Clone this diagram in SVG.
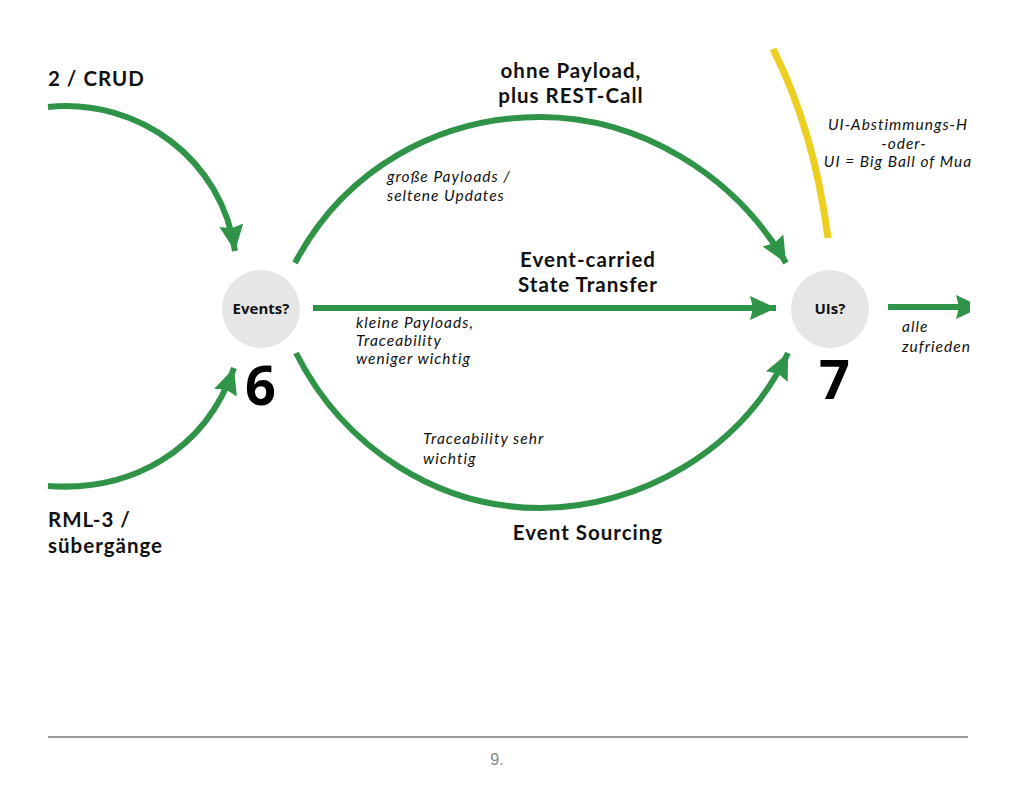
<svg xmlns="http://www.w3.org/2000/svg" width="1024" height="791" viewBox="0 0 1024 791">
<style>
.c{fill:none;stroke:#2F9447;stroke-width:6;}
.h{font-family:"Lato","Liberation Sans",sans-serif;font-weight:700;font-size:20.5px;letter-spacing:1px;fill:#111;}
.i{font-family:"Lato","Liberation Sans",sans-serif;font-style:italic;font-size:15.5px;letter-spacing:1px;fill:#111;}
.n{font-family:"Open Sans","Liberation Sans",sans-serif;font-weight:700;font-size:15px;fill:#111;text-anchor:middle;}
.big{font-family:"Open Sans","Liberation Sans",sans-serif;font-weight:700;font-size:54px;fill:#000;}
.node{fill:#E6E6E6;}
</style>
<defs>
<marker id="ah" markerUnits="userSpaceOnUse" markerWidth="28" markerHeight="28" viewBox="0 0 28 28" refX="26" refY="14" orient="auto">
<path d="M0,2 L26,14 L0,26 L3,14 Z" fill="#2F9447"/>
</marker>
<clipPath id="clipR"><rect x="0" y="0" width="970" height="791"/></clipPath>
</defs>
<rect width="1024" height="791" fill="#fff"/>

<g id="connectors">
<path class="c" d="M48,107 C140,98 222,160 235,251" marker-end="url(#ah)"/>
<path class="c" d="M48,486 C130,492 205,452 234,368" marker-end="url(#ah)"/>
<path class="c" d="M295,263 C345,168 440,117 540,117 C640,117 735,175 786,263" marker-end="url(#ah)"/>
<path class="c" d="M313,308 L776,308" marker-end="url(#ah)"/>
<path class="c" d="M296,353 C345,450 440,508 540,508 C640,508 742,450 788,353" marker-end="url(#ah)"/>
<g clip-path="url(#clipR)">
<path class="c" d="M888,307 L982,307" marker-end="url(#ah)"/>
</g>
<path d="M773,49 Q814,130 828,238" fill="none" stroke="#EDCF1F" stroke-width="7"/>
</g>

<g id="node-events">
<circle class="node" cx="261" cy="309" r="39"/>
<text class="n" x="261" y="314">Events?</text>
<text class="big" x="245" y="405">6</text>
</g>

<g id="node-uis">
<circle class="node" cx="830" cy="309" r="39"/>
<text class="n" x="830" y="314">UIs?</text>
<text class="big" x="819" y="399">7</text>
</g>

<g id="labels">
<text class="h" x="48" y="86" letter-spacing="1.5">2 / CRUD</text>
<text class="h" x="571" y="78" text-anchor="middle">ohne Payload,</text>
<text class="h" x="571" y="103" text-anchor="middle">plus REST-Call</text>
<text class="i" x="387" y="182">große Payloads /</text>
<text class="i" x="387" y="201">seltene Updates</text>
<text class="h" x="588" y="267" text-anchor="middle">Event-carried</text>
<text class="h" x="588" y="292" text-anchor="middle">State Transfer</text>
<text class="i" x="356" y="328">kleine Payloads,</text>
<text class="i" x="356" y="346">Traceability</text>
<text class="i" x="356" y="364">weniger wichtig</text>
<text class="i" x="423" y="444">Traceability sehr</text>
<text class="i" x="423" y="464">wichtig</text>
<text class="h" x="588" y="540" text-anchor="middle">Event Sourcing</text>
<text class="h" x="48" y="527">RML-3 /</text>
<text class="h" x="48" y="553">sübergänge</text>
<text class="i" x="898" y="130" text-anchor="middle">UI-Abstimmungs-H</text>
<text class="i" x="904" y="149" text-anchor="middle">-oder-</text>
<text class="i" x="898" y="167" text-anchor="middle">UI = Big Ball of Mua</text>
<text class="i" x="902" y="332">alle</text>
<text class="i" x="902" y="352">zufrieden</text>
</g>

<g id="footer">
<line x1="48" y1="737" x2="968" y2="737" stroke="#9A9A9A" stroke-width="2"/>
<text x="497" y="765" text-anchor="middle" font-family="Liberation Sans, sans-serif" font-size="16" fill="#888">9.</text>
</g>
</svg>
